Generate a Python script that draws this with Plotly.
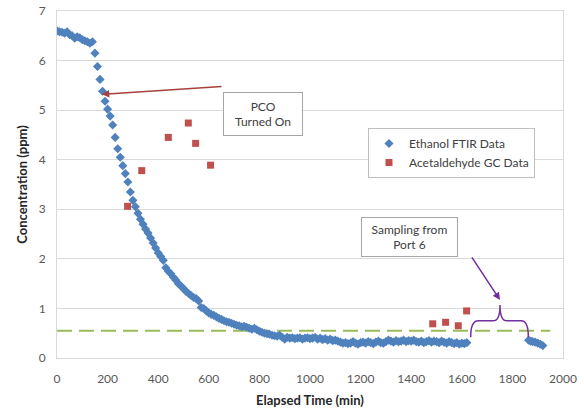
import plotly.graph_objects as go

# Ethanol FTIR data (elapsed time in min, concentration in ppm)
ethanol_time = [
    0, 10, 20, 30, 40, 50, 60, 70, 80, 90, 100, 110, 120, 130, 140, 150, 160, 170, 180, 190,
    200, 210, 220, 230, 240, 250, 260, 270, 280, 290, 300, 310, 320, 330, 340, 350, 360, 370, 380, 390,
    400, 410, 420, 430, 440, 450, 460, 470, 480, 490, 500, 510, 520, 530, 540, 550, 560, 570, 580, 590,
    600, 610, 620, 630, 640, 650, 660, 670, 680, 690, 700, 710, 720, 730, 740, 750, 760, 770, 780, 790,
    800, 810, 820, 830, 840, 850, 860, 870, 880, 890, 900, 910, 920, 930, 940, 950, 960, 970, 980, 990,
    1000, 1010, 1020, 1030, 1040, 1050, 1060, 1070, 1080, 1090, 1100, 1110, 1120, 1130, 1140, 1150, 1160, 1170, 1180, 1190,
    1200, 1210, 1220, 1230, 1240, 1250, 1260, 1270, 1280, 1290, 1300, 1310, 1320, 1330, 1340, 1350, 1360, 1370, 1380, 1390,
    1400, 1410, 1420, 1430, 1440, 1450, 1460, 1470, 1480, 1490, 1500, 1510, 1520, 1530, 1540, 1550, 1560, 1570, 1580, 1590,
    1600, 1610, 1620,
    1864, 1872, 1880, 1890, 1900, 1910, 1920,
]
ethanol_conc = [
    6.60, 6.58, 6.57, 6.55, 6.58, 6.52, 6.50, 6.45, 6.48, 6.46, 6.42, 6.40, 6.38, 6.35, 6.38, 6.15, 5.88, 5.62, 5.38, 5.18,
    5.02, 4.88, 4.70, 4.45, 4.22, 4.05, 3.88, 3.72, 3.55, 3.35, 3.18, 3.05, 2.92, 2.80, 2.70, 2.60, 2.52, 2.42, 2.32, 2.22,
    2.12, 2.05, 1.97, 1.82, 1.75, 1.70, 1.63, 1.57, 1.50, 1.45, 1.40, 1.34, 1.30, 1.26, 1.22, 1.20, 1.15, 1.02, 1.00, 0.95,
    0.91, 0.88, 0.86, 0.83, 0.80, 0.78, 0.75, 0.73, 0.72, 0.70, 0.68, 0.66, 0.65, 0.63, 0.64, 0.62, 0.60, 0.58, 0.60, 0.57,
    0.54, 0.52, 0.50, 0.49, 0.48, 0.46, 0.45, 0.44, 0.46, 0.42, 0.38, 0.42, 0.40, 0.41, 0.39, 0.40, 0.41, 0.38, 0.40, 0.41,
    0.39, 0.40, 0.42, 0.38, 0.40, 0.37, 0.39, 0.36, 0.38, 0.35, 0.36, 0.34, 0.32, 0.30, 0.31, 0.29, 0.30, 0.33, 0.30, 0.28,
    0.31, 0.32, 0.30, 0.33, 0.31, 0.29, 0.32, 0.34, 0.31, 0.30, 0.33, 0.36, 0.34, 0.32, 0.35, 0.33, 0.34, 0.36, 0.33, 0.35,
    0.34, 0.36, 0.33, 0.32, 0.34, 0.31, 0.33, 0.35, 0.32, 0.34, 0.33, 0.31, 0.34, 0.32, 0.30, 0.33, 0.31, 0.29, 0.31, 0.28,
    0.30, 0.29, 0.31,
    0.36, 0.34, 0.33, 0.32, 0.30, 0.28, 0.25,
]

# Acetaldehyde GC data
acet_time = [279, 335, 440, 519, 548, 607, 1485, 1536, 1586, 1619]
acet_conc = [3.06, 3.78, 4.45, 4.74, 4.33, 3.89, 0.69, 0.72, 0.65, 0.95]

# Reference level (dashed line)
ref_level = 0.55
ref_span = [0, 1950]

x_ticks = [0, 200, 400, 600, 800, 1000, 1200, 1400, 1600, 1800, 2000]
y_ticks = [0, 1, 2, 3, 4, 5, 6, 7]

FONT = "Lato, 'Open Sans', sans-serif"
BLUE = "#4F81BD"
RED = "#C0504D"
GREEN = "#9BBB59"
PURPLE = "#7030A0"

W, H = 584, 417
L, R, T, B = 57, 21, 11, 59
pw, ph = W - L - R, H - T - B


def px_to_paper(px, py):
    return (px - L) / pw, (H - B - py) / ph


fig = go.Figure()
fig.add_trace(go.Scatter(
    x=ethanol_time, y=ethanol_conc, mode="markers", name="Ethanol FTIR Data",
    marker=dict(symbol="diamond", size=7, color=BLUE),
))
fig.add_trace(go.Scatter(
    x=acet_time, y=acet_conc, mode="markers", name="Acetaldehyde GC Data",
    marker=dict(symbol="square", size=7, color=RED),
))

fig.add_shape(type="line", xref="x", yref="y",
              x0=ref_span[0], x1=ref_span[1], y0=ref_level, y1=ref_level,
              line=dict(color=GREEN, width=2, dash="15px,7px"), layer="below")

# Curly brace marking the Port 6 sampling period
fig.add_shape(type="path", xref="x", yref="y",
              path="M 1635,0.42 Q 1635,0.75 1665,0.75 L 1725,0.75 Q 1751,0.75 1751,1.07 "
                   "Q 1751,0.75 1777,0.75 L 1835,0.75 Q 1863,0.75 1863,0.42",
              line=dict(color=PURPLE, width=1.5))

# PCO annotation
fig.add_annotation(x=177, y=5.32, ax=656, ay=5.48, xref="x", yref="y", axref="x", ayref="y",
                   text="", showarrow=True, arrowhead=2, arrowsize=1, arrowwidth=1.5,
                   arrowcolor="#A6403C")
cx, cy = px_to_paper((223.3 + 301.7) / 2, (70.7 + 112.7) / 2)
fig.add_annotation(x=cx, y=cy, xref="paper", yref="paper",
                   text="PCO<br>Turned On", showarrow=False,
                   font=dict(family=FONT, size=12, color="#404040"),
                   bgcolor="white", bordercolor="#A6A6A6", borderwidth=1,
                   width=76, height=40, align="center")

# Sampling annotation
fig.add_annotation(x=1751, y=1.17, ax=1636, ay=2.06, xref="x", yref="y", axref="x", ayref="y",
                   text="", showarrow=True, arrowhead=2, arrowsize=1, arrowwidth=1.5,
                   arrowcolor=PURPLE)
sx, sy = px_to_paper((410 + 506.7) / 2, (217.3 + 255.7) / 2)
fig.add_annotation(x=sx, y=sy, xref="paper", yref="paper",
                   text="Sampling from<br>Port 6", showarrow=False,
                   font=dict(family=FONT, size=12, color="#404040"),
                   bgcolor="white", bordercolor="#A6A6A6", borderwidth=1,
                   width=93, height=36, align="center")

lx, ly = px_to_paper(368, 128)

fig.update_layout(
    width=W, height=H,
    margin=dict(l=L, r=R, t=T, b=B),
    paper_bgcolor="white", plot_bgcolor="white",
    font=dict(family=FONT, size=12, color="#595959"),
    showlegend=True,
    legend=dict(x=lx, y=ly, xanchor="left", yanchor="top",
                bgcolor="white", bordercolor="#BFBFBF", borderwidth=1,
                font=dict(family=FONT, size=12, color="#404040"),
                itemwidth=30, tracegroupgap=0),
    xaxis=dict(range=[0, 2000], tickvals=x_ticks, showgrid=False, zeroline=False,
               showline=True, linecolor="#D9D9D9", linewidth=1, mirror=True,
               ticks="outside", ticklen=10, tickcolor="rgba(0,0,0,0)", automargin=False,
               title=dict(text="<b>Elapsed Time (min)</b>", standoff=10,
                          font=dict(family=FONT, size=13, color="#262626"))),
    yaxis=dict(range=[0, 7], tickvals=y_ticks, showgrid=True, gridcolor="#D9D9D9",
               zeroline=False, showline=True, linecolor="#D9D9D9", linewidth=1, mirror=True,
               ticks="outside", ticklen=8, tickcolor="rgba(0,0,0,0)", automargin=False,
               title=dict(text="<b>Concentration (ppm)</b>", standoff=8,
                          font=dict(family=FONT, size=13, color="#262626"))),
)

fig.write_html("out.html", config={"displayModeBar": False},
               post_script="document.body.style.margin='0px';")
